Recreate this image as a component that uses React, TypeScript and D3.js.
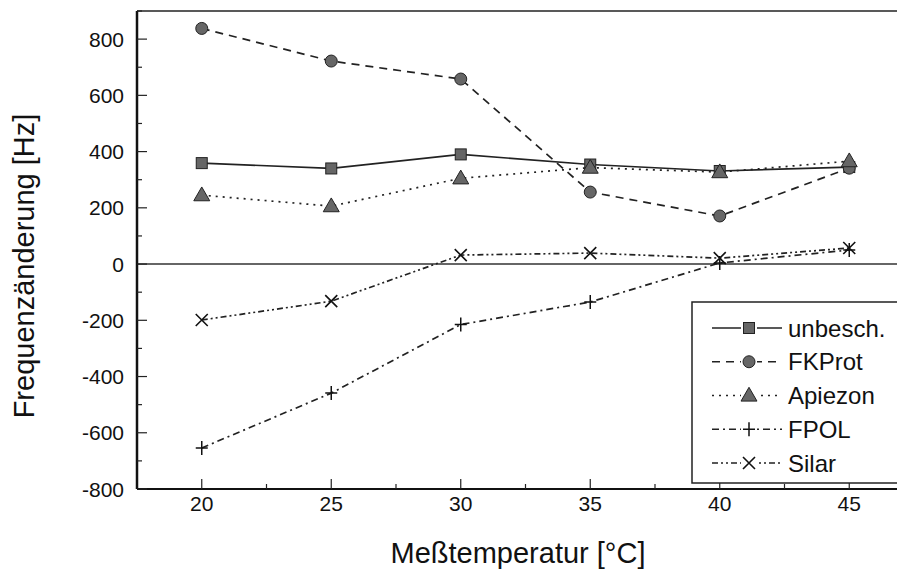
import React, { useRef, useEffect } from 'react';
import * as d3 from 'd3';

const temps = [20, 25, 30, 35, 40, 45];
const unbesch = [359, 340, 390, 354, 331, 345];
const fkprot = [838, 722, 658, 256, 171, 341];
const apiezon = [245, 206, 305, 343, 327, 366];
const fpol = [-654, -459, -215, -135, 4, 50];
const silar = [-199, -132, 32, 39, 21, 57];

const seriesNames = ['unbesch.', 'FKProt', 'Apiezon', 'FPOL', 'Silar'];
const seriesValues = [unbesch, fkprot, apiezon, fpol, silar];
const dashes = ['none', '8,6', '2,5', '7,4,2,4', '6,3,2,3,2,3'];
const markers = ['square', 'circle', 'triangle', 'plus', 'cross'];

const yTicks = [-800, -600, -400, -200, 0, 200, 400, 600, 800];

const App = () => {
  const ref = useRef<SVGSVGElement>(null);

  useEffect(() => {
    const svg = d3.select(ref.current);
    svg.selectAll('*').remove();
    const font = 'Liberation Sans, Arial, sans-serif';

    const x = d3.scaleLinear().domain([17.5, 47.5]).range([137, 914]);
    const y = d3.scaleLinear().domain([-800, 900]).range([489, 11]);

    const drawMarker = (g, kind, cx, cy) => {
      if (kind === 'square') {
        g.append('rect').attr('x', cx - 5.5).attr('y', cy - 5.5).attr('width', 11).attr('height', 11)
          .attr('fill', '#666').attr('stroke', '#222').attr('stroke-width', 1);
      } else if (kind === 'circle') {
        g.append('circle').attr('cx', cx).attr('cy', cy).attr('r', 6)
          .attr('fill', '#666').attr('stroke', '#222').attr('stroke-width', 1);
      } else if (kind === 'triangle') {
        g.append('path').attr('d', d3.symbol(d3.symbolTriangle, 110)())
          .attr('transform', `translate(${cx},${cy + 1})`)
          .attr('fill', '#666').attr('stroke', '#222').attr('stroke-width', 1);
      } else if (kind === 'plus') {
        g.append('path').attr('d', `M${cx - 6},${cy}H${cx + 6}M${cx},${cy - 7}V${cy + 7}`)
          .attr('stroke', '#111').attr('stroke-width', 1.5).attr('fill', 'none');
      } else {
        g.append('path').attr('d', `M${cx - 6},${cy - 6}L${cx + 6},${cy + 6}M${cx - 6},${cy + 6}L${cx + 6},${cy - 6}`)
          .attr('stroke', '#111').attr('stroke-width', 1.6).attr('fill', 'none');
      }
    };

    // zero line
    svg.append('line').attr('x1', x(17.5)).attr('x2', x(47.5)).attr('y1', y(0)).attr('y2', y(0))
      .attr('stroke', '#333').attr('stroke-width', 1.5);

    // series
    const line = d3.line<number>().x((d, i) => x(temps[i])).y(d => y(d));
    seriesValues.forEach((vals, s) => {
      svg.append('path').attr('d', line(vals)).attr('fill', 'none')
        .attr('stroke', '#222').attr('stroke-width', 1.7)
        .attr('stroke-dasharray', dashes[s]);
      const g = svg.append('g');
      vals.forEach((v, i) => drawMarker(g, markers[s], x(temps[i]), y(v)));
    });

    // frame
    svg.append('line').attr('x1', 137).attr('x2', 914).attr('y1', 11).attr('y2', 11)
      .attr('stroke', '#222').attr('stroke-width', 1.5);
    svg.append('line').attr('x1', 137).attr('x2', 137).attr('y1', 11).attr('y2', 489)
      .attr('stroke', '#111').attr('stroke-width', 2.5);
    svg.append('line').attr('x1', 137).attr('x2', 914).attr('y1', 489).attr('y2', 489)
      .attr('stroke', '#111').attr('stroke-width', 2);

    // y ticks
    d3.range(-800, 901, 100).forEach(v => {
      const major = v % 200 === 0;
      svg.append('line').attr('x1', 137).attr('x2', 137 + (major ? 10 : 5))
        .attr('y1', y(v)).attr('y2', y(v)).attr('stroke', '#222').attr('stroke-width', 1.2);
    });
    yTicks.forEach(v => {
      svg.append('text').attr('x', 124).attr('y', y(v)).attr('dy', '0.36em')
        .attr('text-anchor', 'end').attr('font-family', font).attr('font-size', 21)
        .attr('fill', '#111').text(v);
    });

    // x ticks
    d3.range(20, 47.5, 2.5).forEach(v => {
      const major = v % 5 === 0;
      svg.append('line').attr('x1', x(v)).attr('x2', x(v))
        .attr('y1', 489).attr('y2', 489 - (major ? 10 : 5)).attr('stroke', '#222').attr('stroke-width', 1.2);
    });
    temps.forEach(v => {
      svg.append('text').attr('x', x(v)).attr('y', 511)
        .attr('text-anchor', 'middle').attr('font-family', font).attr('font-size', 21)
        .attr('fill', '#111').text(v);
    });

    // axis titles
    svg.append('text').attr('x', 518).attr('y', 563).attr('text-anchor', 'middle')
      .attr('font-family', font).attr('font-size', 29).attr('fill', '#111').text('Meßtemperatur [°C]');
    svg.append('text').attr('transform', 'translate(34,266) rotate(-90)').attr('text-anchor', 'middle')
      .attr('font-family', font).attr('font-size', 29).attr('fill', '#111').text('Frequenzänderung [Hz]');

    // legend
    svg.append('rect').attr('x', 692).attr('y', 302).attr('width', 230).attr('height', 181)
      .attr('fill', '#fff').attr('stroke', '#222').attr('stroke-width', 1.5);
    const legendY = d3.scalePoint().domain(seriesNames).range([328, 463]);
    seriesNames.forEach((name, s) => {
      const ly = legendY(name);
      svg.append('line').attr('x1', 712).attr('x2', 782).attr('y1', ly).attr('y2', ly)
        .attr('stroke', '#222').attr('stroke-width', 1.7).attr('stroke-dasharray', dashes[s]);
      const g = svg.append('g');
      g.append('rect').attr('x', 741).attr('y', ly - 8).attr('width', 16).attr('height', 16).attr('fill', '#fff');
      drawMarker(g, markers[s], 749, ly);
      svg.append('text').attr('x', 788).attr('y', ly).attr('dy', '0.36em')
        .attr('font-family', font).attr('font-size', 24).attr('fill', '#111').text(name);
    });
  }, []);

  return (
    <div style={{ position: 'absolute', left: 0, top: 0 }}>
      <svg ref={ref} width={897} height={569} style={{ display: 'block', background: '#fff' }}></svg>
    </div>
  );
};

export default App;
